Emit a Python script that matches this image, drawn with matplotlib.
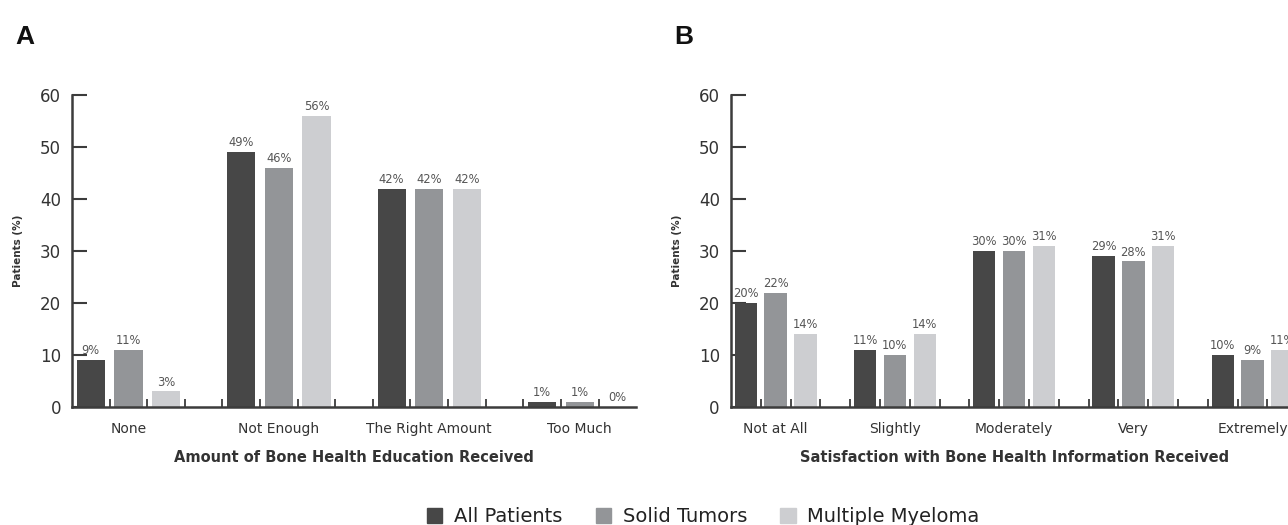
import numpy as np
import matplotlib.pyplot as plt
from matplotlib.patches import Patch

plt.rcParams['font.family'] = ['DejaVu Sans']

series = ['All Patients', 'Solid Tumors', 'Multiple Myeloma']
colors = ['#474747', '#939598', '#cdced1']

cats_a = ['None', 'Not Enough', 'The Right Amount', 'Too Much']
all_a = [9, 49, 42, 1]
solid_a = [11, 46, 42, 1]
mm_a = [3, 56, 42, 0]

cats_b = ['Not at All', 'Slightly', 'Moderately', 'Very', 'Extremely']
all_b = [20, 11, 30, 29, 10]
solid_b = [22, 10, 30, 28, 9]
mm_b = [14, 14, 31, 31, 11]

axis_col = '#3c3c3c'


def panel(ax, cats, vals, xlabel, letter):
    n = len(cats)
    for s, (v, c) in enumerate(zip(vals, colors)):
        x = np.arange(n) * 4 + s
        bars = ax.bar(x, v, width=0.75, color=c, zorder=2)
        ax.bar_label(bars, labels=[f'{k}%' for k in v], padding=2,
                     fontsize=8.3, color='#555555')
    ax.set_xlim(-0.5, 4 * n - 1.5)
    ax.set_ylim(0, 60)
    ax.set_yticks(range(0, 61, 10))
    ax.set_xticks(np.arange(n) * 4 + 1)
    ax.set_xticklabels(cats, fontsize=10, color='#333333')
    ax.set_xticks(np.arange(4 * n - 2) + 0.5, minor=True)
    ax.tick_params(axis='x', which='major', length=0, pad=11)
    ax.tick_params(axis='x', which='minor', direction='in', length=6,
                   width=1.3, color=axis_col)
    ax.tick_params(axis='y', direction='in', length=11, width=1.5,
                   color=axis_col, labelsize=12, labelcolor='#333333', pad=8)
    for side in ['top', 'right']:
        ax.spines[side].set_visible(False)
    for side in ['left', 'bottom']:
        ax.spines[side].set_color(axis_col)
        ax.spines[side].set_linewidth(1.8)
    ax.set_ylabel('Patients (%)', fontsize=7.5, fontweight='bold',
                  color='#333333', labelpad=12)
    ax.set_xlabel(xlabel, fontsize=10.5, fontweight='bold', color='#333333',
                  labelpad=10)
    ax.text(-0.1, 1.165, letter, transform=ax.transAxes, fontsize=19,
            fontweight='bold', family='Liberation Sans', color='#111111')


fig = plt.figure(figsize=(12.88, 5.25), dpi=100)
ax_a = fig.add_axes([0.0559, 0.2248, 0.438, 0.5942])
ax_b = fig.add_axes([0.5675, 0.2248, 0.4397, 0.5942])

panel(ax_a, cats_a, [all_a, solid_a, mm_a],
      'Amount of Bone Health Education Received', 'A')
panel(ax_b, cats_b, [all_b, solid_b, mm_b],
      'Satisfaction with Bone Health Information Received', 'B')

handles = [Patch(color=c, label=s) for s, c in zip(series, colors)]
fig.legend(handles=handles, loc='center', bbox_to_anchor=(0.546, 0.016),
           ncol=3, frameon=False, fontsize=14, handlelength=0.8,
           handleheight=0.8, columnspacing=1.7, handletextpad=0.6,
           labelcolor='#222222')

fig.savefig('out.png', dpi=100)
